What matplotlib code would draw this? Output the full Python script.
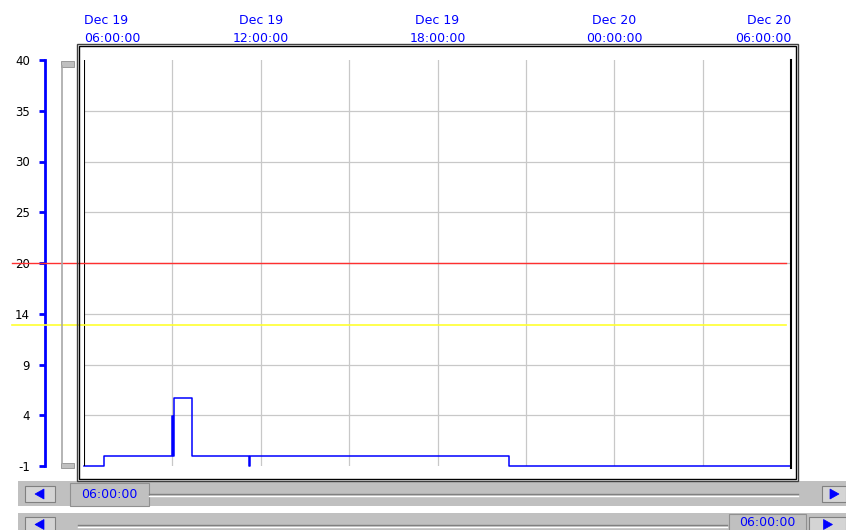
import pandas as pd
import matplotlib
matplotlib.use("Agg")
import matplotlib.pyplot as plt
import matplotlib.transforms as mtransforms
from matplotlib.patches import Rectangle, Polygon
from matplotlib.lines import Line2D

# data
times = ["2023-12-19 06:00", "2023-12-19 06:40", "2023-12-19 09:00", "2023-12-19 09:02",
         "2023-12-19 09:04", "2023-12-19 09:39", "2023-12-19 11:37", "2023-12-19 11:38",
         "2023-12-19 20:25", "2023-12-20 06:00"]
values = [-1, 0, 4, 0, 5.9, 0, -1, 0, -1, -1]
high_limit = 19.5
low_limit = 13.2
y_min, y_max = -1, 40
y_labels = ["-1", "4", "9", "14", "20", "25", "30", "35", "40"]
x_start = "2023-12-19 06:00"
x_end = "2023-12-20 06:00"
x_labels = ["Dec 19\n06:00:00", "Dec 19\n12:00:00", "Dec 19\n18:00:00",
            "Dec 20\n00:00:00", "Dec 20\n06:00:00"]
scroll_text = "06:00:00"

W, H = 846, 530
BLUE = "#0000ff"
GRAY = "#c0c0c0"

def fx(px):
    return px / W

def fy(py):
    return 1 - py / H

fig = plt.figure(figsize=(W / 100, H / 100), dpi=100)
ax = fig.add_axes([fx(84), fy(466), fx(791) - fx(84), fy(60) - fy(466)])

t = pd.to_datetime(times)
t0, t1 = pd.Timestamp(x_start), pd.Timestamp(x_end)

ax.set_xlim(t0, t1)
ax.set_ylim(y_min, y_max)

# grid
yt = [y_min + i * (y_max - y_min) / 8 for i in range(9)]
ax.set_yticks(yt)
ax.set_yticklabels(y_labels)
for y in yt[1:-1]:
    ax.axhline(y, color="#c8c8c8", lw=0.9, zorder=1)
for x in pd.date_range(t0, t1, freq="3h")[1:-1]:
    ax.axvline(x, color="#c8c8c8", lw=0.9, zorder=1)

ax.plot(t, values, drawstyle="steps-post", color=BLUE, lw=1.1, zorder=3, clip_on=False)

# inner black edges
ax.axvline(t0, color="black", lw=1.5, zorder=4)
ax.axvline(t1, ymin=-0.005, ymax=1, color="black", lw=1.5, zorder=4, clip_on=False)

# limit lines across the whole panel
bt = mtransforms.blended_transform_factory(fig.transFigure, ax.transData)
ax.plot([fx(12), fx(786)], [high_limit, high_limit], color="#ff3030", lw=1.0, transform=bt, clip_on=False, zorder=5)
ax.plot([fx(12), fx(786)], [low_limit, low_limit], color="#ffff30", lw=1.2, transform=bt, clip_on=False, zorder=5)

# axes styling
for s in ["top", "right", "bottom"]:
    ax.spines[s].set_visible(False)
ax.spines["left"].set_position(("outward", 28))
ax.spines["left"].set_color(BLUE)
ax.spines["left"].set_linewidth(2)
ax.tick_params(axis="y", colors=BLUE, width=2, length=4, pad=7, labelcolor="black", labelsize=8.5)

xt = pd.date_range(t0, t1, freq="6h")
ax.set_xticks(xt)
ax.set_xticklabels(x_labels)
ax.tick_params(axis="x", top=True, bottom=False, labeltop=True, labelbottom=False,
               length=0, pad=11, labelcolor=BLUE, labelsize=9)
for lab in ax.get_xticklabels():
    lab.set_linespacing(1.45)
labs = ax.get_xticklabels()
labs[0].set_ha("left")
labs[-1].set_ha("right")
ax.set_facecolor("white")

# double frame
fig.add_artist(Rectangle((fx(76.5), fy(481)), fx(798) - fx(76.5), fy(43.5) - fy(481),
                         fill=False, ec="#404040", lw=1.0, transform=fig.transFigure))
fig.add_artist(Rectangle((fx(79), fy(479)), fx(795.5) - fx(79), fy(46) - fy(479),
                         fill=False, ec="black", lw=1.0, transform=fig.transFigure))

# vertical slider
fig.add_artist(Line2D([fx(61.5), fx(61.5)], [fy(66), fy(463)], color="#a8a8a8", lw=1.2))
fig.add_artist(Rectangle((fx(61), fy(66.5)), fx(74) - fx(61), fy(61) - fy(66.5),
                         fc="#c0c0c0", ec="#909090", lw=0.6, transform=fig.transFigure))
fig.add_artist(Rectangle((fx(61), fy(468)), fx(74) - fx(61), fy(462.5) - fy(468),
                         fc="#c0c0c0", ec="#909090", lw=0.6, transform=fig.transFigure))


def button(x0, y0, x1, y1, left=True):
    fig.add_artist(Rectangle((fx(x0), fy(y1)), fx(x1) - fx(x0), fy(y0) - fy(y1),
                             fc="#d4d4d4", ec="#808080", lw=0.8, transform=fig.transFigure))
    cx = (x0 + x1) / 2
    cy = (y0 + y1) / 2
    if left:
        pts = [(fx(cx - 5), fy(cy)), (fx(cx + 4), fy(cy - 5)), (fx(cx + 4), fy(cy + 5))]
    else:
        pts = [(fx(cx + 5), fy(cy)), (fx(cx - 4), fy(cy - 5)), (fx(cx - 4), fy(cy + 5))]
    fig.add_artist(Polygon(pts, closed=True, fc=BLUE, ec=BLUE, lw=0.5, transform=fig.transFigure))


def track(x0, x1, y):
    fig.add_artist(Line2D([fx(x0), fx(x1)], [fy(y), fy(y)], color="#808080", lw=1.0))
    fig.add_artist(Line2D([fx(x0), fx(x1)], [fy(y + 2), fy(y + 2)], color="white", lw=1.0))


def textbox(x0, y0, x1, y1):
    fig.add_artist(Rectangle((fx(x0), fy(y1)), fx(x1) - fx(x0), fy(y0) - fy(y1),
                             fc=GRAY, ec="#909090", lw=0.8, transform=fig.transFigure))
    fig.text(fx((x0 + x1) / 2), fy((y0 + y1) / 2), scroll_text, color=BLUE, fontsize=9,
             ha="center", va="center")


# bottom scroll bars
fig.add_artist(Rectangle((fx(18), fy(506)), 1 - fx(18), fy(481) - fy(506),
                         fc=GRAY, ec="none", transform=fig.transFigure, zorder=0))
fig.add_artist(Rectangle((fx(18), 0), 1 - fx(18), fy(513), fc=GRAY, ec="none",
                         transform=fig.transFigure, zorder=0))
track(149, 798, 494)
button(25, 486, 55, 502, left=True)
textbox(70, 483, 149, 506)
button(822, 486, 846, 502, left=False)

track(78, 727, 525)
button(25, 517, 55, 532, left=True)
textbox(729, 514, 806, 532)
button(809, 517, 846, 532, left=False)

fig.savefig("out.png", dpi=100)
